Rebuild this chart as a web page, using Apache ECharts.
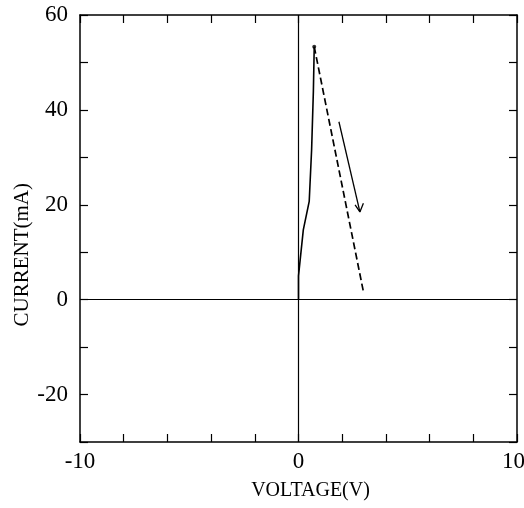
<!DOCTYPE html>
<html>
<head>
<meta charset="utf-8">
<script src="https://cdn.jsdelivr.net/npm/echarts@6/dist/echarts.min.js"></script>
<style>
  html, body { margin: 0; padding: 0; background: #fff; }
  #chart { width: 524px; height: 508px; }
</style>
</head>
<body>
<div id="chart"></div>
<script>
// I-V sweep: rising branch up to the peak current
const riseVoltage = [0, 0.0, 0.22, 0.49, 0.6, 0.68, 0.72];
const riseCurrent = [0, 5.0, 14.7, 20.7, 31.6, 43.8, 53.3];
// falling branch after the peak (dashed)
const fallVoltage = [0.72, 2.97];
const fallCurrent = [53.3, 1.7];
// direction arrow: shaft, then the two arms of the head
const arrowShaftV = [1.85, 2.81];
const arrowShaftI = [37.5, 18.5];
const arrowHeadV = [2.59, 2.81, 2.97];
const arrowHeadI = [20.0, 18.5, 20.3];
// axis ranges and labels
const xRange = [-10, 10];
const yRange = [-30, 60];
const xLabelValues = [-10, 0, 10];
const yLabelValues = [-20, 0, 20, 40, 60];

const pairs = (xs, ys) => xs.map((x, i) => [x, ys[i]]);
const FONT = 'Liberation Serif';

const chart = echarts.init(document.getElementById('chart'), null, { renderer: 'canvas' });

const baseAxisLine = { show: true, lineStyle: { color: '#000', width: 1.5 } };
const inTicks = { show: true, inside: true, length: 8, lineStyle: { color: '#000', width: 1.2 } };

chart.setOption({
  backgroundColor: '#fff',
  animation: false,
  grid: { left: 80, right: 7, top: 15, bottom: 66, containLabel: false, outerBoundsMode: 'none' },
  xAxis: [
    {
      type: 'value', position: 'bottom', min: xRange[0], max: xRange[1], interval: 2,
      axisLine: { ...baseAxisLine, onZero: false },
      axisTick: inTicks,
      splitLine: { show: false },
      axisLabel: {
        margin: 8, color: '#000', fontFamily: FONT, fontSize: 23,
        formatter: v => {
          if (!xLabelValues.includes(v)) return '';
          // keep the last label inside the page edge
          return v === xRange[1] ? '{edge|' + v + '}' : String(v);
        },
        rich: { edge: { fontFamily: FONT, fontSize: 23, color: '#000', padding: [0, 7, 0, 0] } }
      },
      name: 'VOLTAGE(V)', nameLocation: 'middle', nameGap: 39,
      nameTextStyle: { color: '#000', fontFamily: FONT, fontSize: 20, padding: [0, 0, 0, 24] }
    },
    {
      type: 'value', position: 'top', min: xRange[0], max: xRange[1], interval: 2,
      axisLine: { ...baseAxisLine, onZero: false },
      axisTick: inTicks,
      splitLine: { show: false },
      axisLabel: { show: false }
    }
  ],
  yAxis: [
    {
      type: 'value', position: 'left', min: yRange[0], max: yRange[1], interval: 10,
      axisLine: { ...baseAxisLine, onZero: false },
      axisTick: inTicks,
      splitLine: { show: false },
      axisLabel: {
        margin: 12, color: '#000', fontFamily: FONT, fontSize: 23,
        formatter: v => yLabelValues.includes(v) ? String(v) : ''
      }
    },
    {
      type: 'value', position: 'right', min: yRange[0], max: yRange[1], interval: 10,
      axisLine: { ...baseAxisLine, onZero: false },
      axisTick: inTicks,
      splitLine: { show: false },
      axisLabel: { show: false }
    }
  ],
  graphic: [
    {
      type: 'text', left: 12, top: 183, rotation: Math.PI / 2,
      style: { text: 'CURRENT(mA)', fill: '#000', font: '21px "Liberation Serif"' }
    }
  ],
  series: [
    {
      name: 'rise', type: 'line', xAxisIndex: 0, yAxisIndex: 0,
      data: pairs(riseVoltage, riseCurrent),
      showSymbol: false, symbol: 'none',
      lineStyle: { color: '#000', width: 1.6 },
      markLine: {
        silent: true, symbol: ['none', 'none'], label: { show: false },
        lineStyle: { color: '#000', width: 1.2, type: 'solid' },
        data: [{ xAxis: 0 }, { yAxis: 0 }]
      }
    },
    {
      name: 'peak', type: 'scatter', xAxisIndex: 0, yAxisIndex: 0,
      data: [[riseVoltage[riseVoltage.length - 1], riseCurrent[riseCurrent.length - 1]]],
      symbol: 'circle', symbolSize: 4, itemStyle: { color: '#000' }
    },
    {
      name: 'fall', type: 'line', xAxisIndex: 0, yAxisIndex: 0,
      data: pairs(fallVoltage, fallCurrent),
      symbol: 'none',
      lineStyle: { color: '#000', width: 1.7, type: [7, 3.5] }
    },
    {
      name: 'arrowShaft', type: 'line', xAxisIndex: 0, yAxisIndex: 0,
      data: pairs(arrowShaftV, arrowShaftI),
      symbol: 'none',
      lineStyle: { color: '#000', width: 1.3 }
    },
    {
      name: 'arrowHead', type: 'line', xAxisIndex: 0, yAxisIndex: 0,
      data: pairs(arrowHeadV, arrowHeadI),
      symbol: 'none',
      lineStyle: { color: '#000', width: 1.3 }
    }
  ]
});
</script>
</body>
</html>
